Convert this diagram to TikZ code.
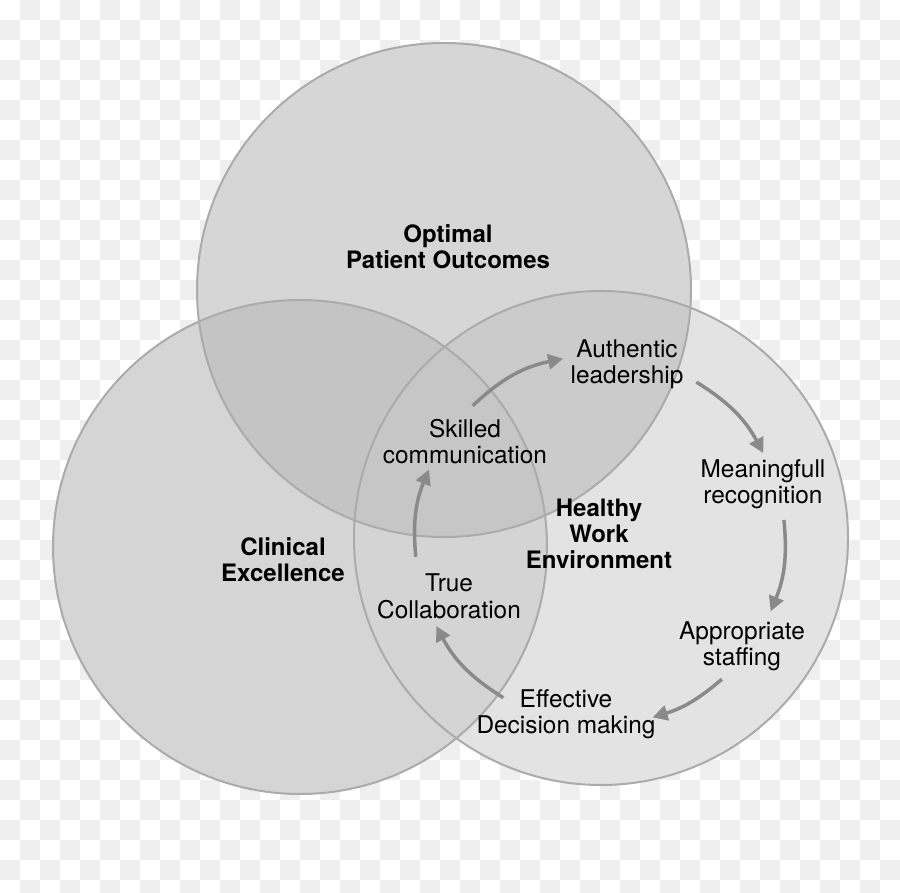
\documentclass[tikz,border=0pt]{standalone}
\usepackage{fontspec}
\setmainfont{TeX Gyre Heros}
\usetikzlibrary{arrows.meta,calc}
\definecolor{chk}{HTML}{EFEFEF}
\definecolor{cT}{HTML}{D6D6D6}
\definecolor{cL}{HTML}{D5D5D5}
\definecolor{cR}{HTML}{E3E3E3}
\definecolor{cTL}{HTML}{C4C4C4}
\definecolor{cTR}{HTML}{CBCBCB}
\definecolor{cLR}{HTML}{D4D4D4}
\definecolor{cTLR}{HTML}{C6C6C6}
\definecolor{edge}{HTML}{ABABAB}
\definecolor{arr}{HTML}{8A8A8A}
\tikzset{
  lbl/.style={align=center, inner sep=0pt, font=\fontsize{24.4}{26}\selectfont},
  ttl/.style={lbl, font=\fontsize{24}{26}\selectfont\bfseries},
  cyc/.style={draw=arr, line width=3.5pt, -{Triangle[length=15pt,width=15pt]}},
  rim/.style={draw=edge, line width=2pt}
}
\begin{document}
\begin{tikzpicture}[x=1pt,y=1pt]
\useasboundingbox (0,0) rectangle (900,892);
\clip (0,0) rectangle (900,892);
\fill[white] (0,0) rectangle (900,892);
\foreach \i in {0,...,44} {
  \foreach \j in {0,...,44} {
    \pgfmathtruncatemacro\p{mod(\i+\j,2)}
    \ifnum\p=1 \fill[chk] (20*\i,892-20*\j) rectangle ++(20,-20); \fi
  }
}
% circles
\coordinate (cTc) at (444,602);
\coordinate (cLc) at (300,345);
\coordinate (cRc) at (601,354);
\def\rr{247}
\fill[cT] (cTc) circle[radius=\rr];
\fill[cL] (cLc) circle[radius=\rr];
\fill[cR] (cRc) circle[radius=\rr];
\begin{scope}\clip (cTc) circle[radius=\rr]; \fill[cTL] (cLc) circle[radius=\rr];\end{scope}
\begin{scope}\clip (cTc) circle[radius=\rr]; \fill[cTR] (cRc) circle[radius=\rr];\end{scope}
\begin{scope}\clip (cLc) circle[radius=\rr]; \fill[cLR] (cRc) circle[radius=\rr];\end{scope}
\begin{scope}\clip (cTc) circle[radius=\rr]; \clip (cLc) circle[radius=\rr]; \fill[cTLR] (cRc) circle[radius=\rr];\end{scope}
\draw[rim] (cTc) circle[radius=\rr];
\draw[rim] (cLc) circle[radius=\rr];
\draw[rim] (cRc) circle[radius=\rr];
% titles
\node[ttl] (opt) at (448,641.2) {\strut Optimal\\\strut Patient Outcomes};
\node[ttl] (clin) at (283,328.2) {\strut Clinical\\\strut Excellence};
\node[ttl] (hwe) at (599,354.2) {\strut Healthy\\\strut Work\\\strut Environment};
% cycle labels
\node[lbl] (auth) at (627,526.2) {\strut Authentic\\\strut leadership};
\node[lbl] (skill) at (465,446.9) {\strut Skilled\\\strut communication};
\node[lbl] (mean) at (763,406.2) {\strut Meaningfull\\\strut recognition};
\node[lbl] (appr) at (742,244.5) {\strut Appropriate\\\strut staffing};
\node[lbl] (eff) at (566,176.5) {\strut Effective\\\strut Decision making};
\node[lbl] (true) at (449,292.5) {\strut True\\\strut Collaboration};
% cycle arrows
\coordinate (cc) at (600,352);
\def\cr{185}
\coordinate (a1s) at ($(cc)+(133.5:\cr)$);
\coordinate (a1e) at ($(cc)+(101.5:\cr)$);
\coordinate (a2s) at ($(cc)+(58.6:\cr)$);
\coordinate (a2e) at ($(cc)+(28:\cr)$);
\coordinate (a3s) at ($(cc)+(6.2:\cr)$);
\coordinate (a3e) at ($(cc)+(-22.7:\cr)$);
\coordinate (a4s) at ($(cc)+(-48.8:\cr)$);
\coordinate (a4e) at ($(cc)+(-73.5:\cr)$);
\coordinate (a5s) at ($(cc)+(-121.5:\cr)$);
\coordinate (a5e) at ($(cc)+(-152.3:\cr)$);
\coordinate (a6s) at ($(cc)+(-174.8:\cr)$);
\coordinate (a6e) at ($(cc)+(-202.4:\cr)$);
\draw[cyc] (a1s) to[bend left=16] (a1e);
\draw[cyc] (a2s) to[bend left=15] (a2e);
\draw[cyc] (a3s) to[bend left=14] (a3e);
\draw[cyc] (a4s) to[bend left=12] (a4e);
\draw[cyc] (a5s) to[bend left=15] (a5e);
\draw[cyc] (a6s) to[bend left=14] (a6e);
\end{tikzpicture}
\end{document}
